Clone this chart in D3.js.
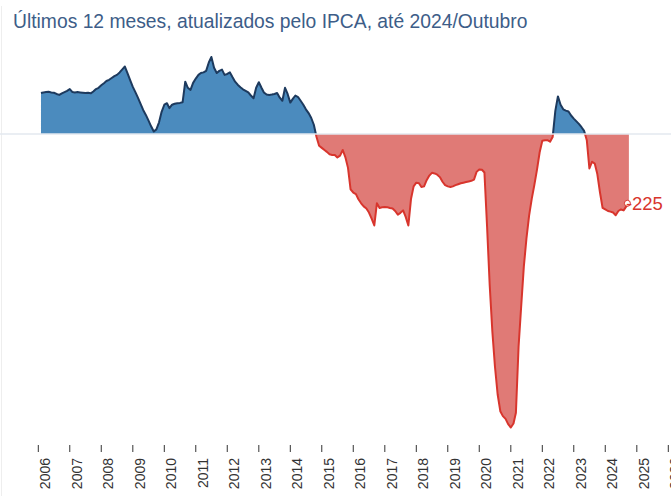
<!DOCTYPE html>
<html>
<head>
<meta charset="utf-8">
<script src="https://cdn.jsdelivr.net/npm/d3@7"></script>
<style>
  html, body { margin: 0; padding: 0; background: #fff; }
  svg { display: block; font-family: "Liberation Sans", Arial, Helvetica, sans-serif; }
</style>
</head>
<body>
<svg id="chart" width="671" height="496"></svg>
<script>
// ---- Data (R$ bilhões, acumulado 12 meses, a preços de 2024/Outubro) ----
const titleText = "Últimos 12 meses, atualizados pelo IPCA, até 2024/Outubro";
const startYear = 2006, startMonth = 2; // first observation: 2006/Fevereiro
const values = [
  // 2006 (Feb-Dec)
  133, 135, 136, 137, 135, 134, 130, 127, 132, 136, 140,
  // 2007
  146, 136, 135, 136, 135, 134, 133, 134, 132, 138, 146, 150,
  // 2008
  158, 165, 172, 176, 182, 188, 192, 200, 210, 219, 197, 175,
  // 2009
  153, 135, 118, 98, 78, 62, 44, 25, 8, 15, 38, 72,
  // 2010
  95, 100, 84, 95, 98, 100, 101, 103, 170, 150, 143, 166,
  // 2011
  180, 192, 198, 200, 205, 232, 250, 215, 198, 205, 209, 192,
  // 2012
  195, 200, 185, 170, 160, 152, 145, 140, 135, 125, 116, 150,
  // 2013
  168, 150, 135, 128, 127, 128, 130, 133, 118, 108, 150, 130,
  // 2014
  102, 115, 125, 120, 108, 95, 80, 68, 52, 30, -10, -38,
  // 2015
  -45, -52, -58, -66, -68, -68, -76, -70, -52, -75, -110, -180,
  // 2016
  -190, -195, -212, -225, -235, -242, -255, -275, -297, -225, -240, -238,
  // 2017
  -237, -238, -240, -242, -250, -262, -256, -248, -270, -297, -210, -170,
  // 2018
  -158, -160, -172, -170, -150, -135, -126, -128, -132, -140, -155, -166,
  // 2019
  -170, -172, -170, -166, -163, -160, -158, -156, -154, -152, -148, -123,
  // 2020
  -115, -116, -125, -303, -490, -642, -755, -845, -900, -916, -925, -942,
  // 2021
  -953, -940, -905, -690, -560, -430, -340, -265, -210, -165, -115, -60,
  // 2022
  -22, -20, -20, -25, -10, 75, 122, 95, 80, 76, 73, 60,
  // 2023
  50, 41, 33, 22, 10, -20, -112, -90, -96, -130, -190, -240,
  // 2024 (Jan-Oct)
  -245, -250, -252, -255, -264, -250, -245, -248, -235, -225
];
const tickYears = [2006, 2007, 2008, 2009, 2010, 2011, 2012, 2013, 2014, 2015, 2016,
                   2017, 2018, 2019, 2020, 2021, 2022, 2023, 2024, 2025, 2026];

// ---- Build records ----
const data = values.map((v, i) => ({
  date: new Date(Date.UTC(startYear, startMonth - 1 + i, 1)),
  value: v
}));

const W = 671, H = 496;
const svg = d3.select("#chart");

const x = d3.scaleUtc()
  .domain([new Date(Date.UTC(2006, 0, 1)), new Date(Date.UTC(2026, 0, 1))])
  .range([38.3, 668.3]);
const y = d3.scaleLinear().domain([-1000, 300]).range([442, 41.6]);

const colors = {
  posFill: "#4b8bbe", posLine: "#1d3a5e",
  negFill: "#e07a76", negLine: "#d8352d",
  zero: "#e3e8ef", title: "#3d5d88", axis: "#333"
};

// faint frame line on the left
svg.append("line").attr("x1", 1.5).attr("x2", 1.5).attr("y1", 6).attr("y2", H)
  .attr("stroke", "#eeeeee").attr("stroke-width", 1);

// Title
svg.append("text").attr("x", 13).attr("y", 28)
  .attr("font-size", 19.3).attr("fill", colors.title)
  .text(titleText);

// clip paths for sign
const defs = svg.append("defs");
defs.append("clipPath").attr("id", "clipPos").append("rect")
  .attr("x", 0).attr("y", 0).attr("width", W).attr("height", y(0));
defs.append("clipPath").attr("id", "clipNeg").append("rect")
  .attr("x", 0).attr("y", y(0)).attr("width", W).attr("height", H - y(0));

const area = d3.area().x(d => x(d.date)).y0(y(0)).y1(d => y(d.value));
const line = d3.line().x(d => x(d.date)).y(d => y(d.value));

const gPos = svg.append("g").attr("clip-path", "url(#clipPos)");
gPos.append("path").datum(data).attr("d", area).attr("fill", colors.posFill);
gPos.append("path").datum(data).attr("d", line).attr("fill", "none")
  .attr("stroke", colors.posLine).attr("stroke-width", 2).attr("stroke-linejoin", "round");

const gNeg = svg.append("g").attr("clip-path", "url(#clipNeg)");
gNeg.append("path").datum(data).attr("d", area).attr("fill", colors.negFill);
gNeg.append("path").datum(data).attr("d", line).attr("fill", "none")
  .attr("stroke", colors.negLine).attr("stroke-width", 2).attr("stroke-linejoin", "round");

// zero line
svg.append("line").attr("x1", 0).attr("x2", W).attr("y1", y(0)).attr("y2", y(0))
  .attr("stroke", colors.zero).attr("stroke-width", 1.5);

// Last value marker + label
const last = data[data.length - 1];
svg.append("circle").attr("cx", x(last.date) - 1.5).attr("cy", y(last.value)).attr("r", 3)
  .attr("fill", "#fff").attr("stroke", colors.negLine).attr("stroke-width", 1);
svg.append("text").attr("x", x(last.date) - 3).attr("y", y(last.value))
  .attr("dy", "0.36em").attr("font-size", 18.5).attr("fill", colors.negLine)
  .text(String(last.value));

// X axis (ticks + rotated labels)
const axisY = 445;
const gx = svg.append("g");
tickYears.forEach(yr => {
  const xt = x(new Date(Date.UTC(yr, 0, 1)));
  gx.append("line").attr("x1", xt).attr("x2", xt).attr("y1", axisY).attr("y2", axisY + 7)
    .attr("stroke", colors.axis).attr("stroke-width", 1);
  gx.append("text")
    .attr("transform", `translate(${xt + 12},${axisY + 13}) rotate(-90)`)
    .attr("text-anchor", "end").attr("font-size", 14).attr("fill", "#333")
    .text(String(yr));
});
</script>
</body>
</html>
